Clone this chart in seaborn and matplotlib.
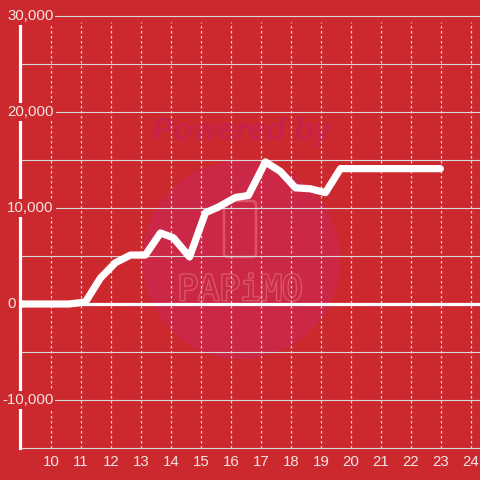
import matplotlib
matplotlib.use("Agg")
import matplotlib.pyplot as plt
import matplotlib.patches as mpatches
import matplotlib.patheffects as pe
import seaborn as sns
import pandas as pd

# data (hour of day, value)
hours = [8.98, 10.6, 11.15, 11.65, 12.15, 12.65, 13.15, 13.65, 14.08, 14.62,
         15.15, 15.58, 16.15, 16.58, 17.15, 17.65, 18.15, 18.65, 19.15, 19.65, 22.98]
values = [0, 0, 200, 2700, 4300, 5100, 5100, 7400, 6900, 4900,
          9500, 10100, 11100, 11300, 14800, 13800, 12100, 12000, 11600, 14100, 14100]
x_ticks = list(range(10, 25))
y_grid = list(range(-15000, 30001, 5000))
y_labels = [-10000, 0, 10000, 20000, 30000]

bg = "#cc292e"
txt = "#f3e4e4"
grid_c = "#d8d8d8"
circle_c = "#cb2747"

sns.set_style("white")
plt.rcParams["font.family"] = ["Liberation Sans", "DejaVu Sans"]

df = pd.DataFrame({"hour": hours, "value": values})

fig = plt.figure(figsize=(4.8, 4.8), dpi=100)
fig.patch.set_facecolor(bg)
ax = fig.add_axes([20 / 480, 32 / 480, 460 / 480, 432 / 480])
ax.set_facecolor(bg)
ax.set_xlim(8.97, 24.3)
ax.set_ylim(-15000, 30000)

# watermark
circ = mpatches.Ellipse((241 / 480, 1 - 260 / 480), 198 / 480, 198 / 480,
                        transform=fig.transFigure, facecolor=circle_c,
                        edgecolor="none", zorder=0.2)
ax.add_patch(circ)
phone = mpatches.FancyBboxPatch((224 / 480, 1 - 257 / 480), 32 / 480, 56 / 480,
                                boxstyle="round,pad=0,rounding_size=0.008",
                                transform=fig.transFigure, facecolor="none",
                                edgecolor="#da5566", lw=1.8, zorder=0.3)
ax.add_patch(phone)
ax.text(242 / 480, 1 - 132 / 480, "Powered by", transform=fig.transFigure,
        ha="center", va="center", fontsize=23, fontweight="bold",
        fontstyle="italic", color="#c5234a", zorder=0.3)
ax.text(240 / 480, 1 - 290 / 480, "PAPiMO", transform=fig.transFigure,
        ha="center", va="center", fontsize=25, family="DejaVu Sans Mono",
        color=circle_c, zorder=0.3,
        path_effects=[pe.withStroke(linewidth=2, foreground="#da5566")])

# grid
for v in y_grid:
    if v == 0:
        continue
    ax.axhline(v, color=grid_c, lw=0.8, zorder=0.5, clip_on=False)
for h in x_ticks:
    ax.axvline(h, ymax=0.985, color=grid_c, lw=0.9, ls=(0, (2, 2)), zorder=0.5)
ax.axhline(0, color="white", lw=2.3, zorder=1)

sns.lineplot(data=df, x="hour", y="value", color="white", lw=5.2, ax=ax, zorder=3)

# axes styling
for s in ["top", "right", "bottom"]:
    ax.spines[s].set_visible(False)
ax.spines["left"].set_color("white")
ax.spines["left"].set_linewidth(2.3)
ax.set_xlabel("")
ax.set_ylabel("")
ax.set_yticks([])
ax.set_xticks(x_ticks)
ax.set_xticklabels([str(h) for h in x_ticks])
ax.tick_params(axis="x", length=0, pad=5, labelsize=10.8, labelcolor=txt)

for v in y_labels:
    xpos = (2 - 20) / 460 if v < 0 else (7 - 20) / 460
    ax.text(xpos, v, f"{v:,}", transform=ax.get_yaxis_transform(), ha="left",
            va="center", fontsize=10.8, color=txt, zorder=5, clip_on=False,
            bbox=dict(facecolor=bg, edgecolor="none", pad=1.5))

fig.savefig("out.png", dpi=100, facecolor=bg)
